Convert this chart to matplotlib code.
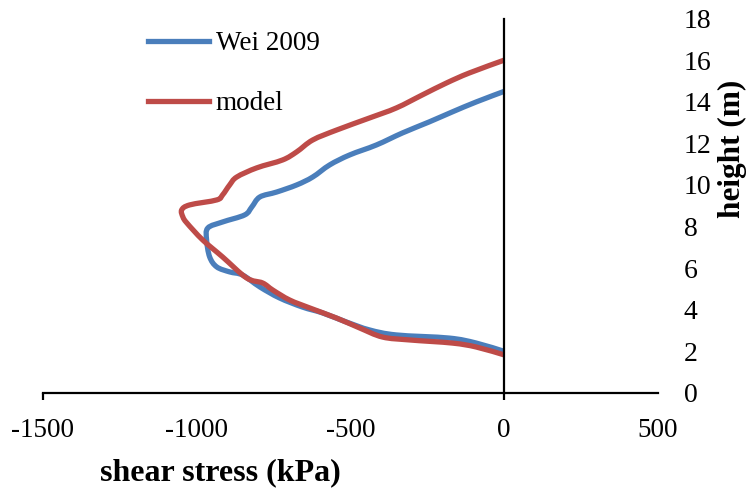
import matplotlib
matplotlib.use("Agg")
import matplotlib.pyplot as plt
import numpy as np
from matplotlib.path import Path
from matplotlib.patches import PathPatch
from matplotlib.lines import Line2D

# ---- data ----
wei_stress = [0, -91, -169, -244, -331, -416, -503, -568, -623, -675, -740, -795,
              -821, -844, -916, -964, -968, -958, -935, -893, -851, -795, -731,
              -656, -591, -513, -438, -351, -179, -91, 0]
wei_height = [14.5, 13.99, 13.51, 13.03, 12.5, 11.92, 11.44, 10.96, 10.38, 10.0,
              9.66, 9.42, 8.94, 8.56, 8.22, 7.93, 7.36, 6.54, 6.06, 5.82, 5.67,
              5.1, 4.57, 4.13, 3.85, 3.41, 3.03, 2.79, 2.64, 2.4, 2.0]

model_stress = [0, -114, -188, -266, -351, -438, -545, -623, -675, -721, -805,
                -870, -893, -916, -935, -1023, -1049, -1045, -1032, -981, -916,
                -838, -786, -753, -698, -633, -545, -471, -396, -308, -169, -91, 0]
model_height = [16.0, 15.38, 14.9, 14.33, 13.7, 13.22, 12.64, 12.16, 11.59, 11.2,
                10.82, 10.38, 10.0, 9.52, 9.28, 9.04, 8.8, 8.46, 8.17, 7.36, 6.54,
                5.53, 5.29, 4.95, 4.47, 4.09, 3.6, 3.13, 2.69, 2.55, 2.4, 2.21, 1.83]

series_names = ["Wei 2009", "model"]
series_colors = ["#4A7EBB", "#BE4B48"]
x_ticks = [-1500, -1000, -500, 0, 500]
y_ticks = list(range(0, 19, 2))

plt.rcParams["font.family"] = ["Liberation Serif", "DejaVu Serif"]

fig = plt.figure(figsize=(7.47, 4.91), dpi=100)
ax = fig.add_axes([43 / 747, (491 - 393) / 491, (658 - 43) / 747, (393 - 18.5) / 491])
ax.set_xlim(-1500, 500)
ax.set_ylim(0, 18)


def smooth_path(xs, ys, tension=1.0 / 6):
    """Excel-like smoothed line: Catmull-Rom control points as cubic Bezier path."""
    p = np.column_stack([xs, ys]).astype(float)
    verts = [tuple(p[0])]
    codes = [Path.MOVETO]
    n = len(p)
    for i in range(n - 1):
        p0 = p[i - 1] if i > 0 else p[i]
        p1 = p[i]
        p2 = p[i + 1]
        p3 = p[i + 2] if i + 2 < n else p[i + 1]
        c1 = p1 + (p2 - p0) * tension
        c2 = p2 - (p3 - p1) * tension
        verts += [tuple(c1), tuple(c2), tuple(p2)]
        codes += [Path.CURVE4] * 3
    return Path(verts, codes)


handles = []
for xs, ys, name, col in [(wei_stress, wei_height, series_names[0], series_colors[0]),
                          (model_stress, model_height, series_names[1], series_colors[1])]:
    patch = PathPatch(smooth_path(xs, ys), facecolor="none", edgecolor=col,
                      lw=3.8, capstyle="butt", joinstyle="round", zorder=3)
    ax.add_patch(patch)
    handles.append(Line2D([], [], color=col, lw=3.8, label=name))

# spines
for s in ["top", "right"]:
    ax.spines[s].set_visible(False)
ax.spines["left"].set_position(("data", 0))
ax.spines["left"].set_linewidth(1.6)
ax.spines["bottom"].set_linewidth(1.6)
ax.spines["left"].set_zorder(4)

ax.xaxis.remove_overlapping_locs = False
ax.set_xticks(x_ticks)
ax.set_xticklabels([str(v) for v in x_ticks])
ax.set_xticks([x_ticks[0], 0], minor=True)
ax.set_yticks(y_ticks)
ax.set_yticklabels([str(v) for v in y_ticks])
ax.yaxis.tick_right()
ax.tick_params(axis="x", which="major", length=0, pad=18, labelsize=19.5)
ax.tick_params(axis="x", which="minor", length=5, width=1.6, direction="out")
ax.tick_params(axis="y", length=0, pad=18.5, labelsize=20)
for lab in ax.get_yticklabels():
    lab.set_horizontalalignment("left")

fig.text(220 / 747, 11 / 491, "shear stress (kPa)", ha="center", va="baseline",
         fontsize=23, fontweight="bold")
fig.text(732 / 747, (491 - 149) / 491, "height (m)", ha="center", va="center",
         rotation=90, fontsize=22.5, fontweight="bold")

leg = ax.legend(handles=handles, loc="upper left",
                bbox_to_anchor=(148 / 747, (491 - 31) / 491),
                bbox_transform=fig.transFigure, frameon=False, fontsize=19.5,
                handlelength=2.25, handletextpad=0.25, labelspacing=1.3,
                borderpad=0, borderaxespad=0)

fig.savefig("out.png", dpi=100)
